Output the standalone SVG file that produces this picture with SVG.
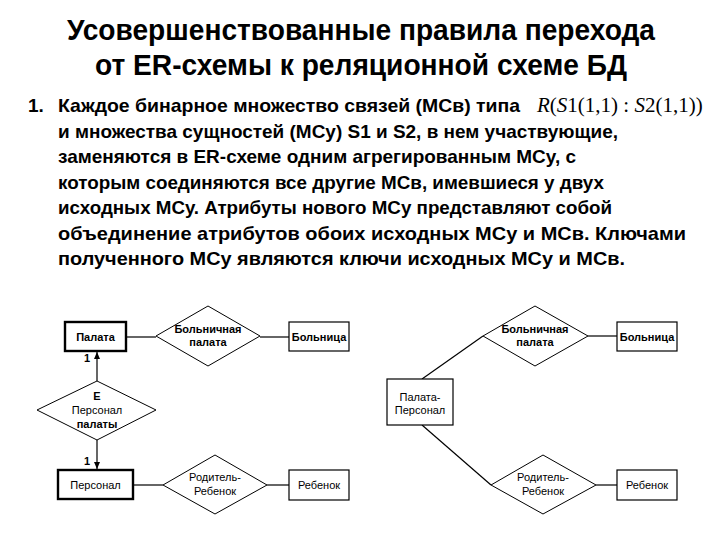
<svg xmlns="http://www.w3.org/2000/svg" width="720" height="540" viewBox="0 0 720 540">
<style>
  .title { font-family: "Liberation Sans", Arial, sans-serif; font-weight: bold; font-size: 30px; fill: #000; text-anchor: middle; }
  .body { font-family: "Liberation Sans", Arial, sans-serif; font-weight: bold; font-size: 19px; fill: #000; }
  .formula { font-family: "Liberation Serif", "Times New Roman", serif; font-size: 21px; fill: #000; }
  .lbl { font-family: "Liberation Sans", Arial, sans-serif; font-weight: bold; font-size: 11px; fill: #000; text-anchor: middle; }
  .lblr { font-family: "Liberation Sans", Arial, sans-serif; font-size: 11px; fill: #000; text-anchor: middle; }
  .ent { fill: #fff; stroke: #000; stroke-width: 1.2; }
  .weak { fill: #fff; stroke: #000; stroke-width: 2.4; }
  .rel { fill: #fff; stroke: #000; stroke-width: 1; }
  .conn line { stroke: #000; stroke-width: 1.2; }
</style>
<defs>
  <marker id="arr" markerWidth="8" markerHeight="8" refX="7" refY="4" orient="auto" markerUnits="userSpaceOnUse">
    <path d="M0,1 L7,4 L0,7 Z" fill="#000"/>
  </marker>
</defs>
<rect width="720" height="540" fill="#fff"/>

<g id="title">
  <text class="title" x="361" y="40" textLength="588" lengthAdjust="spacingAndGlyphs">Усовершенствованные правила перехода</text>
  <text class="title" x="361" y="75" textLength="532" lengthAdjust="spacingAndGlyphs">от ER-схемы к реляционной схеме БД</text>
</g>

<g id="body">
  <text class="body" x="28" y="112">1.</text>
  <text class="body" x="58" y="112" textLength="462" lengthAdjust="spacingAndGlyphs">Каждое бинарное множество связей (МСв) типа</text>
  <text class="formula" x="537" y="112"><tspan font-style="italic">R</tspan>(<tspan font-style="italic">S</tspan>1(1,1) : <tspan font-style="italic">S</tspan>2(1,1))</text>
  <text class="body" x="58" y="137.5" textLength="560" lengthAdjust="spacingAndGlyphs">и множества сущностей (МСу) S1 и S2, в нем участвующие,</text>
  <text class="body" x="58" y="163" textLength="518" lengthAdjust="spacingAndGlyphs">заменяются в ER-схеме одним агрегированным МСу, с</text>
  <text class="body" x="58" y="188.5" textLength="546" lengthAdjust="spacingAndGlyphs">которым соединяются все другие МСв, имевшиеся у двух</text>
  <text class="body" x="58" y="214" textLength="554" lengthAdjust="spacingAndGlyphs">исходных МСу. Атрибуты нового МСу представляют собой</text>
  <text class="body" x="58" y="239.5" textLength="628" lengthAdjust="spacingAndGlyphs">объединение атрибутов обоих исходных МСу и МСв. Ключами</text>
  <text class="body" x="58" y="265" textLength="567" lengthAdjust="spacingAndGlyphs">полученного МСу являются ключи исходных МСу и МСв.</text>
</g>

<g id="connectors" class="conn">
  <line x1="126" y1="337" x2="156" y2="337"/>
  <line x1="260" y1="337" x2="289" y2="337"/>
  <line x1="97" y1="381" x2="97" y2="352" marker-end="url(#arr)"/>
  <line x1="97" y1="440" x2="97" y2="469" marker-end="url(#arr)"/>
  <line x1="133" y1="485" x2="163" y2="485"/>
  <line x1="267" y1="485" x2="289" y2="485"/>
  <line x1="588" y1="336" x2="617" y2="336"/>
  <line x1="422" y1="379" x2="483" y2="336"/>
  <line x1="422" y1="425" x2="491" y2="485"/>
  <line x1="596" y1="485" x2="617" y2="485"/>
</g>

<g id="card-labels">
  <text class="lbl" x="87" y="362">1</text>
  <text class="lbl" x="87" y="465">1</text>
</g>

<g id="palata">
  <rect class="weak" x="65" y="322" width="61" height="29"/>
  <text class="lbl" x="95.5" y="341">Палата</text>
</g>
<g id="bolnichnaya-palata-left">
  <polygon class="rel" points="156,336 208,306 260,336 208,366"/>
  <text class="lbl" x="208" y="333">Больничная</text>
  <text class="lbl" x="208" y="346">палата</text>
</g>
<g id="bolnitsa-left">
  <rect class="ent" x="289" y="322" width="60" height="29"/>
  <text class="lbl" x="319" y="341">Больница</text>
</g>
<g id="personal-palaty">
  <polygon class="rel" points="37,410 97,381 156,410 97,440"/>
  <text class="lbl" x="97" y="400">E</text>
  <text class="lblr" x="97" y="414">Персонал</text>
  <text class="lbl" x="97" y="428">палаты</text>
</g>
<g id="personal">
  <rect class="weak" x="58" y="470" width="75" height="29"/>
  <text class="lblr" x="95.5" y="489">Персонал</text>
</g>
<g id="roditel-rebenok-left">
  <polygon class="rel" points="163,485 215,455 267,485 215,514"/>
  <text class="lblr" x="215" y="481">Родитель-</text>
  <text class="lblr" x="215" y="495">Ребенок</text>
</g>
<g id="rebenok-left">
  <rect class="ent" x="289" y="470" width="60" height="30"/>
  <text class="lblr" x="319" y="489">Ребенок</text>
</g>

<g id="bolnichnaya-palata-right">
  <polygon class="rel" points="483,336 535,306 588,336 535,366"/>
  <text class="lbl" x="535" y="333">Больничная</text>
  <text class="lbl" x="535" y="346">палата</text>
</g>
<g id="bolnitsa-right">
  <rect class="ent" x="617" y="322" width="60" height="29"/>
  <text class="lbl" x="647" y="341">Больница</text>
</g>
<g id="palata-personal">
  <rect class="ent" x="387" y="379" width="66" height="46"/>
  <text class="lblr" x="420" y="401">Палата-</text>
  <text class="lblr" x="420" y="414">Персонал</text>
</g>
<g id="roditel-rebenok-right">
  <polygon class="rel" points="491,485 543,455 596,485 543,514"/>
  <text class="lblr" x="543" y="481">Родитель-</text>
  <text class="lblr" x="543" y="495">Ребенок</text>
</g>
<g id="rebenok-right">
  <rect class="ent" x="617" y="470" width="60" height="30"/>
  <text class="lblr" x="647" y="489">Ребенок</text>
</g>
</svg>
